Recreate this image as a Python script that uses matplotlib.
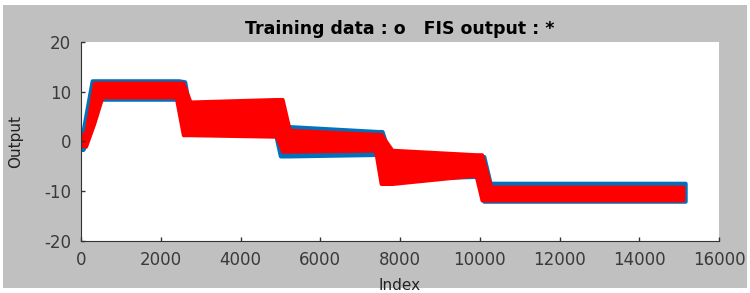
import matplotlib
matplotlib.use('Agg')
import matplotlib.pyplot as plt
from matplotlib.patches import Rectangle

plt.rcParams['axes.unicode_minus'] = False

# envelopes (index, lower edge, upper edge)
train_idx = [0, 50, 280, 480, 2450, 2600, 2700, 4850, 5000, 5200, 7450, 7550, 7750, 10000, 10100, 10260, 15150]
train_lo = [-1.6, -1.6, 3.0, 8.5, 8.5, 2.5, 2.5, 2.5, -2.9, -2.9, -2.6, -7.5, -7.5, -7.0, -12.0, -12.0, -12.0]
train_hi = [1.2, 2.0, 12.2, 12.2, 12.2, 12.0, 7.5, 7.5, 7.5, 3.0, 2.0, 2.0, -3.0, -3.0, -3.0, -8.4, -8.4]

fis_idx = [0, 120, 330, 530, 2380, 2560, 2740, 4900, 5050, 5230, 7380, 7520, 7800, 9900, 10050, 10280, 15100]
fis_lo = [-0.8, -1.0, 3.7, 8.9, 8.9, 1.3, 1.3, 1.0, -2.0, -2.0, -1.8, -8.5, -8.5, -6.8, -11.8, -11.8, -11.8]
fis_hi = [1.0, 2.0, 11.8, 11.8, 11.8, 11.8, 8.0, 8.5, 8.5, 2.3, 1.5, 1.5, -1.7, -2.6, -2.6, -9.1, -9.1]

xticks = list(range(0, 16001, 2000))
yticks = [-20, -10, 0, 10, 20]

fig = plt.figure(figsize=(7.5, 2.93), dpi=100, facecolor='white')
fig.patches.append(Rectangle((0.004, 0.017), 0.992, 0.966, transform=fig.transFigure,
                             facecolor='#c0c0c0', edgecolor='none', zorder=-1))

ax = fig.add_axes([0.108, 0.1775, 0.8507, 0.6792])
ax.fill_between(train_idx, train_lo, train_hi, color='#0072BD', lw=3, joinstyle='round', capstyle='round')
ax.fill_between(fis_idx, fis_lo, fis_hi, color='#FF0000', lw=2.5, joinstyle='round', capstyle='round')

ax.set_xlim(0, 16000)
ax.set_ylim(-20, 20)
ax.set_xticks(xticks)
ax.set_yticks(yticks)
for s in ['top', 'right']:
    ax.spines[s].set_visible(False)
for s in ['left', 'bottom']:
    ax.spines[s].set_color('#333333')
ax.tick_params(direction='in', length=3, width=1, color='#333333',
               labelsize=12, labelcolor='#3a3a3a', pad=7)

ax.set_title('Training data : o   FIS output : *', fontsize=12.5, fontweight='bold', pad=6)
ax.set_ylabel('Output', fontsize=11, color='#222222')
ax.yaxis.set_label_coords(-0.091, 0.5)
ax.set_xlabel('Index', fontsize=11, color='#222222')
ax.xaxis.set_label_coords(0.5, -0.186)

fig.savefig('out.png', dpi=100)
